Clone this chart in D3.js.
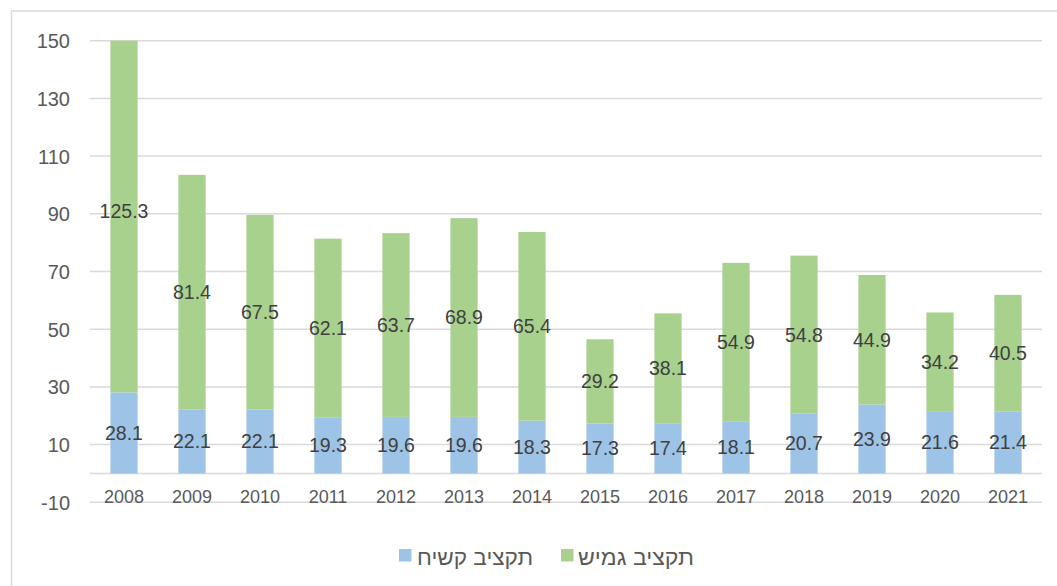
<!DOCTYPE html>
<html>
<head>
<meta charset="utf-8">
<script src="https://cdn.jsdelivr.net/npm/d3@7"></script>
<style>
  html, body { margin: 0; padding: 0; background: #fff; }
  svg { display: block; }
</style>
</head>
<body>
<svg id="chart" width="1057" height="586"></svg>
<script>
// Budget by year: fixed (bottom) and flexible (top) parts
const years = ["2008","2009","2010","2011","2012","2013","2014","2015","2016","2017","2018","2019","2020","2021"];
const fixedBudget = [28.1, 22.1, 22.1, 19.3, 19.6, 19.6, 18.3, 17.3, 17.4, 18.1, 20.7, 23.9, 21.6, 21.4];
const flexibleBudget = [125.3, 81.4, 67.5, 62.1, 63.7, 68.9, 65.4, 29.2, 38.1, 54.9, 54.8, 44.9, 34.2, 40.5];
const yTicks = [-10, 10, 30, 50, 70, 90, 110, 130, 150];
const seriesNames = ["תקציב קשיח", "תקציב גמיש"];
const seriesColors = ["#9dc3e6", "#a9d18e"];

const svg = d3.select("#chart");
const W = 1057, H = 586;

// outer frame (left and top edges visible)
svg.append("line").attr("x1", 11.5).attr("x2", 11.5).attr("y1", 11).attr("y2", H)
  .attr("stroke", "#d9d9d9").attr("stroke-width", 1.5);
svg.append("line").attr("x1", 11).attr("x2", W).attr("y1", 11).attr("y2", 11)
  .attr("stroke", "#d9d9d9").attr("stroke-width", 1.5);

const x = d3.scaleBand().domain(years).range([90, 1042]).paddingInner(0.6).paddingOuter(0.3);
const y = d3.scaleLinear().domain([-10, 150]).range([502.3, 40.7]);

// gridlines
svg.append("g").selectAll("line").data(yTicks).join("line")
  .attr("x1", 90).attr("x2", 1042)
  .attr("y1", d => y(d)).attr("y2", d => y(d))
  .attr("stroke", "#d9d9d9").attr("stroke-width", 1.5);
// zero line
svg.append("line").attr("x1", 90).attr("x2", 1042).attr("y1", y(0)).attr("y2", y(0))
  .attr("stroke", "#d9d9d9").attr("stroke-width", 1.5);

// y axis labels (plain hyphen for negatives)
const yAxis = d3.axisLeft(y).tickValues(yTicks).tickFormat(d => String(d)).tickSize(0).tickPadding(0);
const gy = svg.append("g").attr("transform", "translate(70,0)").call(yAxis);
gy.select(".domain").remove();
gy.selectAll("text").attr("fill", "#595959").style("font-family", "Liberation Sans, Arial, sans-serif")
  .style("font-size", "20px").attr("dy", "0.35em");

// stacked data
const rows = years.map((yr, i) => ({ year: yr, fixed: fixedBudget[i], flexible: flexibleBudget[i] }));
const stack = d3.stack().keys(["fixed", "flexible"]);
const stacked = stack(rows);

svg.append("defs").append("clipPath").attr("id", "plotClip")
  .append("rect").attr("x", 90).attr("y", y(150)).attr("width", 952).attr("height", y(-10) - y(150));

const barsG = svg.append("g").attr("clip-path", "url(#plotClip)");
stacked.forEach((layer, li) => {
  barsG.append("g").selectAll("rect").data(layer).join("rect")
    .attr("x", d => x(d.data.year))
    .attr("width", x.bandwidth())
    .attr("y", d => y(d[1]))
    .attr("height", d => y(d[0]) - y(d[1]))
    .attr("fill", seriesColors[li]);
});

// value labels centered in each segment
stacked.forEach((layer, li) => {
  svg.append("g").selectAll("text").data(layer).join("text")
    .attr("x", d => x(d.data.year) + x.bandwidth() / 2)
    .attr("y", d => y((d[0] + d[1]) / 2))
    .attr("dy", "0.35em")
    .attr("text-anchor", "middle")
    .attr("fill", "#404040")
    .style("font-family", "Liberation Sans, Arial, sans-serif")
    .style("font-size", "19.5px")
    .text(d => (d[1] - d[0]).toFixed(1));
});

// x axis labels
const xAxis = d3.axisBottom(x).tickSize(0).tickPadding(0);
const gx = svg.append("g").attr("transform", "translate(0,497)").call(xAxis);
gx.select(".domain").remove();
gx.selectAll("text").attr("fill", "#595959").attr("dy", "0.35em")
  .style("font-family", "Liberation Sans, Arial, sans-serif").style("font-size", "18px");

// legend
const legendItems = [
  { name: seriesNames[0], color: seriesColors[0], sx: 399, tx: 417 },
  { name: seriesNames[1], color: seriesColors[1], sx: 561, tx: 578 }
];
const lg = svg.append("g");
legendItems.forEach(it => {
  lg.append("rect").attr("x", it.sx).attr("y", 549).attr("width", 12.5).attr("height", 12.5).attr("fill", it.color);
  lg.append("text").attr("x", it.tx).attr("y", 557).attr("dy", "0.35em")
    .attr("text-anchor", "start")
    .attr("fill", "#595959")
    .attr("textLength", 116)
    .attr("lengthAdjust", "spacingAndGlyphs")
    .style("font-family", "Liberation Sans, Arial, sans-serif").style("font-size", "22px")
    .text(it.name);
});
</script>
</body>
</html>
